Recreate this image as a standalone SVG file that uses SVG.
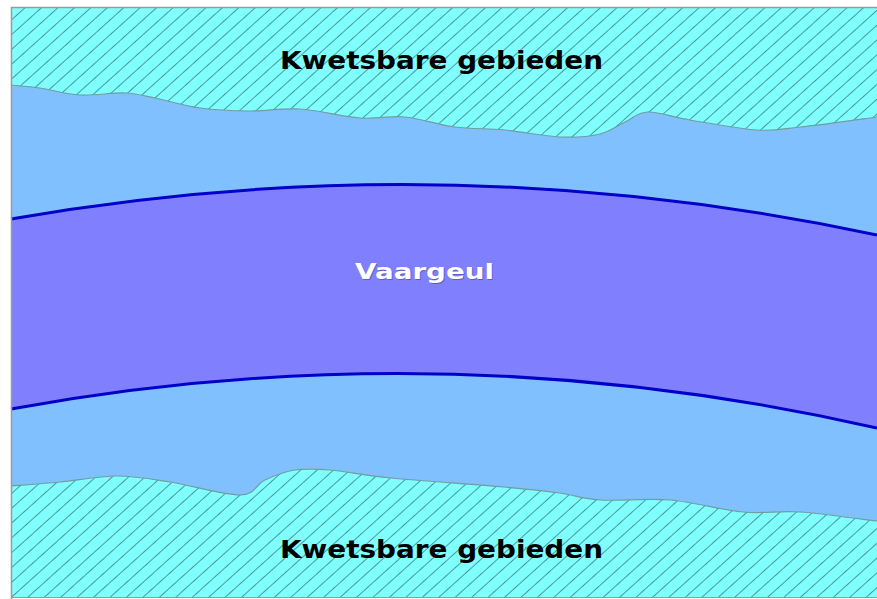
<svg xmlns="http://www.w3.org/2000/svg" width="877" height="599" viewBox="0 0 877 599">
<style>
.land{fill:#80ffff;}
.hatch{fill:url(#h);}
.shore{fill:none;stroke:#6e9e9e;stroke-width:1.2;}
.edge{fill:none;stroke:#0000c8;stroke-width:3;}
.lbl{font-family:"DejaVu Sans","Liberation Sans",sans-serif;font-weight:bold;font-size:25px;fill:#000;}
.ch{font-family:"DejaVu Sans","Liberation Sans",sans-serif;font-weight:bold;font-size:22px;}
</style>
<defs>
<pattern id="h" patternUnits="userSpaceOnUse" width="11" height="11" patternTransform="rotate(48)">
<line x1="0.5" y1="0" x2="0.5" y2="11" stroke="#4a9a9a" stroke-width="1"/>
</pattern>
</defs>
<rect x="0" y="0" width="877" height="599" fill="#ffffff"/>
<g id="water">
<rect x="11" y="7" width="866" height="590" fill="#80c0ff"/>
</g>
<g id="land-top">
<path class="land" d="M11,7 L877,7 L877,117 C864.2,118.7 820,125.2 800,127 C780,129.2 775.3,131.2 757,130 C738.7,128.8 708.2,123 690,120 C671.8,117 658.8,111.7 648,112 C637.2,112.3 633,118.3 625,122 C617,125.7 610.8,131.5 600,134 C589.2,136.5 575.8,137.7 560,137 C544.2,136.3 522.5,131.7 505,130 C487.5,128.3 471.7,129.2 455,127 C438.3,124.8 420.8,118.5 405,117 C389.2,115.5 377.5,119.3 360,118 C342.5,116.7 318.3,110.2 300,109 C281.7,107.8 266.7,111.2 250,111 C233.3,110.8 215.8,110.2 200,108 C184.2,105.8 167.5,100.5 155,98 C142.5,95.5 137.5,93.5 125,93 C112.5,92.5 94.2,95.8 80,95 C65.8,94.2 51.5,89.7 40,88 C28.5,86.3 15.8,85.5 11,85 Z"/>
<path class="hatch" d="M11,7 L877,7 L877,117 C864.2,118.7 820,125.2 800,127 C780,129.2 775.3,131.2 757,130 C738.7,128.8 708.2,123 690,120 C671.8,117 658.8,111.7 648,112 C637.2,112.3 633,118.3 625,122 C617,125.7 610.8,131.5 600,134 C589.2,136.5 575.8,137.7 560,137 C544.2,136.3 522.5,131.7 505,130 C487.5,128.3 471.7,129.2 455,127 C438.3,124.8 420.8,118.5 405,117 C389.2,115.5 377.5,119.3 360,118 C342.5,116.7 318.3,110.2 300,109 C281.7,107.8 266.7,111.2 250,111 C233.3,110.8 215.8,110.2 200,108 C184.2,105.8 167.5,100.5 155,98 C142.5,95.5 137.5,93.5 125,93 C112.5,92.5 94.2,95.8 80,95 C65.8,94.2 51.5,89.7 40,88 C28.5,86.3 15.8,85.5 11,85 Z"/>
<path class="shore" d="M877,117 C864.2,118.7 820,125.2 800,127 C780,129.2 775.3,131.2 757,130 C738.7,128.8 708.2,123 690,120 C671.8,117 658.8,111.7 648,112 C637.2,112.3 633,118.3 625,122 C617,125.7 610.8,131.5 600,134 C589.2,136.5 575.8,137.7 560,137 C544.2,136.3 522.5,131.7 505,130 C487.5,128.3 471.7,129.2 455,127 C438.3,124.8 420.8,118.5 405,117 C389.2,115.5 377.5,119.3 360,118 C342.5,116.7 318.3,110.2 300,109 C281.7,107.8 266.7,111.2 250,111 C233.3,110.8 215.8,110.2 200,108 C184.2,105.8 167.5,100.5 155,98 C142.5,95.5 137.5,93.5 125,93 C112.5,92.5 94.2,95.8 80,95 C65.8,94.2 51.5,89.7 40,88 C28.5,86.3 15.8,85.5 11,85"/>
<text class="lbl" x="280" y="69" textLength="323" lengthAdjust="spacingAndGlyphs">Kwetsbare gebieden</text>
</g>
<g id="land-bottom">
<path class="land" d="M11,486 C19.2,485.3 42.3,483.7 60,482 C77.7,480.3 98.7,476 117,476 C135.3,476 149.5,478.8 170,482 C190.5,485.2 224.2,495.3 240,495 C255.8,494.7 255.8,484.2 265,480 C274.2,475.8 284.2,471.7 295,470 C305.8,468.3 314,468.7 330,470 C346,471.3 362.2,475.2 391,478 C419.8,480.8 475,484.5 503,487 C531,489.5 542.8,490.8 559,493 C575.2,495.2 581.5,498.8 600,500 C618.5,501.2 646.2,498 670,500 C693.8,502 721.3,510 743,512 C764.7,514 777.7,510.5 800,512 C822.3,513.5 864.2,519.5 877,521 L877,597 L11,597 Z"/>
<path class="hatch" d="M11,486 C19.2,485.3 42.3,483.7 60,482 C77.7,480.3 98.7,476 117,476 C135.3,476 149.5,478.8 170,482 C190.5,485.2 224.2,495.3 240,495 C255.8,494.7 255.8,484.2 265,480 C274.2,475.8 284.2,471.7 295,470 C305.8,468.3 314,468.7 330,470 C346,471.3 362.2,475.2 391,478 C419.8,480.8 475,484.5 503,487 C531,489.5 542.8,490.8 559,493 C575.2,495.2 581.5,498.8 600,500 C618.5,501.2 646.2,498 670,500 C693.8,502 721.3,510 743,512 C764.7,514 777.7,510.5 800,512 C822.3,513.5 864.2,519.5 877,521 L877,597 L11,597 Z"/>
<path class="shore" d="M11,486 C19.2,485.3 42.3,483.7 60,482 C77.7,480.3 98.7,476 117,476 C135.3,476 149.5,478.8 170,482 C190.5,485.2 224.2,495.3 240,495 C255.8,494.7 255.8,484.2 265,480 C274.2,475.8 284.2,471.7 295,470 C305.8,468.3 314,468.7 330,470 C346,471.3 362.2,475.2 391,478 C419.8,480.8 475,484.5 503,487 C531,489.5 542.8,490.8 559,493 C575.2,495.2 581.5,498.8 600,500 C618.5,501.2 646.2,498 670,500 C693.8,502 721.3,510 743,512 C764.7,514 777.7,510.5 800,512 C822.3,513.5 864.2,519.5 877,521"/>
<text class="lbl" x="280" y="558" textLength="323" lengthAdjust="spacingAndGlyphs">Kwetsbare gebieden</text>
</g>
<g id="vaargeul">
<path d="M11,219 Q444,143 877,235 L877,428 Q444,329.5 11,409 Z" fill="#8080ff"/>
<path class="edge" d="M11,219 Q444,143 877,235"/>
<path class="edge" d="M11,409 Q444,329.5 877,428"/>
<text class="ch" x="356" y="280" textLength="139" lengthAdjust="spacingAndGlyphs" fill="#4a4a99" opacity="0.6">Vaargeul</text>
<text class="ch" x="355" y="279" textLength="139" lengthAdjust="spacingAndGlyphs" fill="#ffffff">Vaargeul</text>
</g>
<g id="frame">
<path d="M11.5,599 L11.5,7.5 L877,7.5" fill="none" stroke="#9a9a9a" stroke-width="1.5"/>
<path d="M11,597.5 L877,597.5" fill="none" stroke="#9a9a9a" stroke-width="1"/>
</g>
</svg>
